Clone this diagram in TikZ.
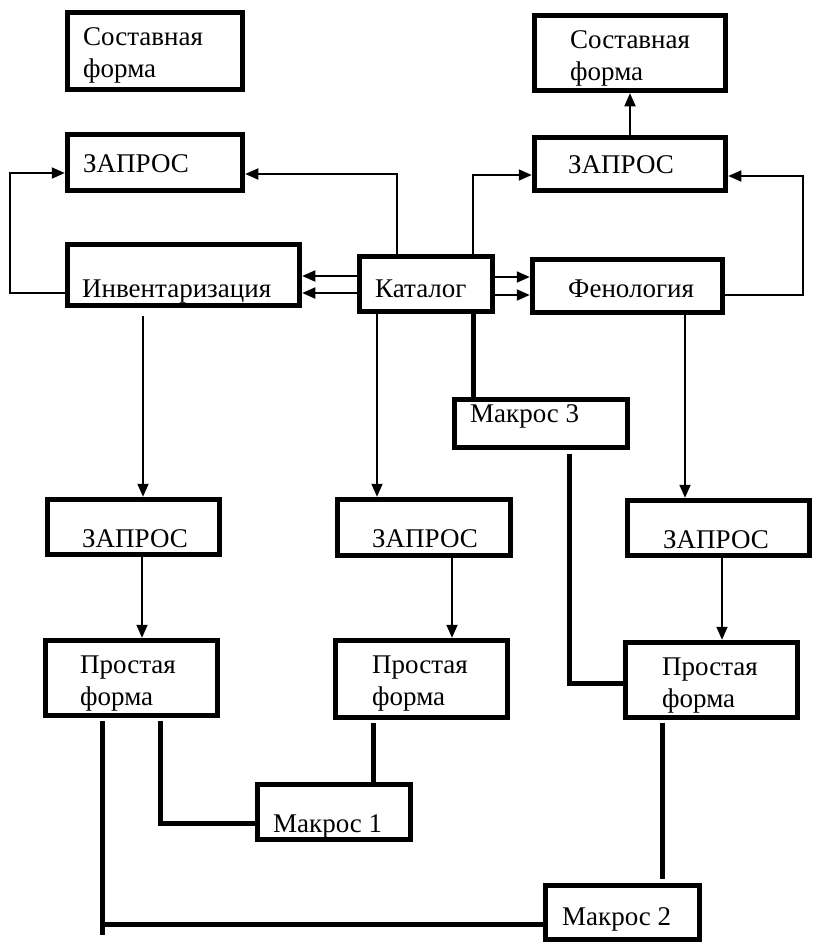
\documentclass[tikz,border=0pt]{standalone}
\usepackage{fontspec}
\setmainfont{Liberation Serif}
\usetikzlibrary{arrows.meta}
\begin{document}
\begin{tikzpicture}[x=1pt,y=-1pt,
  box/.style={draw, line width=5.5pt, inner sep=0pt},
  lbl/.style={inner sep=0pt, anchor=base west, align=left, font=\fontsize{27}{32}\selectfont},
  arr/.style={line width=1.8pt, -{Triangle[length=13pt,width=11pt]}},
  heavy/.style={line width=5pt}]
\fill[white] (0,0) rectangle (814,945);
\useasboundingbox (0,0) rectangle (814,945);
% boxes
\node[box, minimum width=175pt, minimum height=77pt] (SF1) at (155,51) {};
\node[box, minimum width=175pt, minimum height=56pt] (Z1) at (155,162.5) {};
\node[box, minimum width=232pt, minimum height=61pt] (Inv) at (183.5,275) {};
\node[box, minimum width=133pt, minimum height=55pt] (Kat) at (426,284) {};
\node[box, minimum width=191pt, minimum height=75pt] (SF2) at (630,53) {};
\node[box, minimum width=191pt, minimum height=53pt] (Z2) at (630,164) {};
\node[box, minimum width=190pt, minimum height=53pt] (Fen) at (627.5,286) {};
\node[box, minimum width=173pt, minimum height=48pt] (M3) at (541,423.5) {};
\node[box, minimum width=172pt, minimum height=55pt] (Z3) at (133.5,527) {};
\node[box, minimum width=173pt, minimum height=56pt] (Z4) at (424,527.5) {};
\node[box, minimum width=182pt, minimum height=55pt] (Z5) at (718.5,528) {};
\node[box, minimum width=172pt, minimum height=75pt] (PF1) at (131.5,678) {};
\node[box, minimum width=172pt, minimum height=77pt] (PF2) at (421.5,679) {};
\node[box, minimum width=172pt, minimum height=75pt] (PF3) at (711.5,680) {};
\node[box, minimum width=153pt, minimum height=55pt] (M1) at (334,812) {};
\node[box, minimum width=154pt, minimum height=54pt] (M2) at (622.5,912.5) {};
% texts
\node[lbl] (tSF1) at (83,77) {Составная\\форма};
\node[lbl] (tZ1) at (83,172) {ЗАПРОС};
\node[lbl] (tInv) at (82,297) {Инвентаризация};
\node[lbl] (tKat) at (375,297) {Каталог};
\node[lbl] (tFen) at (568,297) {Фенология};
\node[lbl] (tSF2) at (570,80) {Составная\\форма};
\node[lbl] (tZ2) at (568,173) {ЗАПРОС};
\node[lbl] (tM3) at (470,422) {Макрос 3};
\node[lbl] (tZ3) at (82,547) {ЗАПРОС};
\node[lbl] (tZ4) at (372,547) {ЗАПРОС};
\node[lbl] (tZ5) at (663,548) {ЗАПРОС};
\node[lbl] (tPF1) at (80,705) {Простая\\форма};
\node[lbl] (tPF2) at (372,705) {Простая\\форма};
\node[lbl] (tPF3) at (662,707) {Простая\\форма};
\node[lbl] (tM1) at (273,832) {Макрос 1};
\node[lbl] (tM2) at (562,925) {Макрос 2};
% thin arrows
\draw[arr] (Inv.west |- 0,293) -| (10,173) -- (Z1.west |- 0,173);
\draw[arr] (Kat.north -| 397,0) |- (Z1.east |- 0,174);
\draw[arr] (Kat.west |- 0,276) -- (Inv.east |- 0,276);
\draw[arr] (Kat.west |- 0,293) -- (Inv.east |- 0,293);
\draw[arr] (Kat.east |- 0,277) -- (Fen.west |- 0,277);
\draw[arr] (Kat.east |- 0,295) -- (Fen.west |- 0,295);
\draw[arr] (Kat.north -| 473,0) |- (Z2.west |- 0,175);
\draw[arr] (Fen.east |- 0,295) -| (803,176) -- (Z2.east |- 0,176);
\draw[arr] (Z2.north) -- (SF2.south);
\draw[arr, shorten <=8pt] (Inv.south -| 143,0) -- (Z3.north -| 143,0);
\draw[arr] (Kat.south -| 377,0) -- (Z4.north -| 377,0);
\draw[arr] (Fen.south -| 685,0) -- (Z5.north -| 685,0);
\draw[arr] (Z3.south -| 142,0) -- (PF1.north -| 142,0);
\draw[arr] (Z4.south -| 452,0) -- (PF2.north -| 452,0);
\draw[arr] (Z5.south -| 722,0) -- (PF3.north -| 722,0);
% heavy links
\draw[heavy] (Kat.south -| 473,0) -- (M3.north -| 473,0);
\draw[heavy, shorten <=4pt] (M3.south -| 569,0) |- (PF3.west |- 0,683);
\draw[heavy, shorten <=3pt] (PF1.south -| 160,0) |- (M1.west |- 0,823);
\draw[heavy, shorten <=3pt] (PF2.south -| 373,0) -- (M1.north -| 373,0);
\draw[heavy, shorten <=3pt] (PF1.south -| 102,0) |- (M2.west |- 0,924);
\coordinate (stub) at (102,935);
\draw[heavy] (102,920) -- (stub);
\draw[heavy, shorten <=3pt, shorten >=4pt] (PF3.south -| 662,0) -- (M2.north -| 662,0);
\end{tikzpicture}
\end{document}
